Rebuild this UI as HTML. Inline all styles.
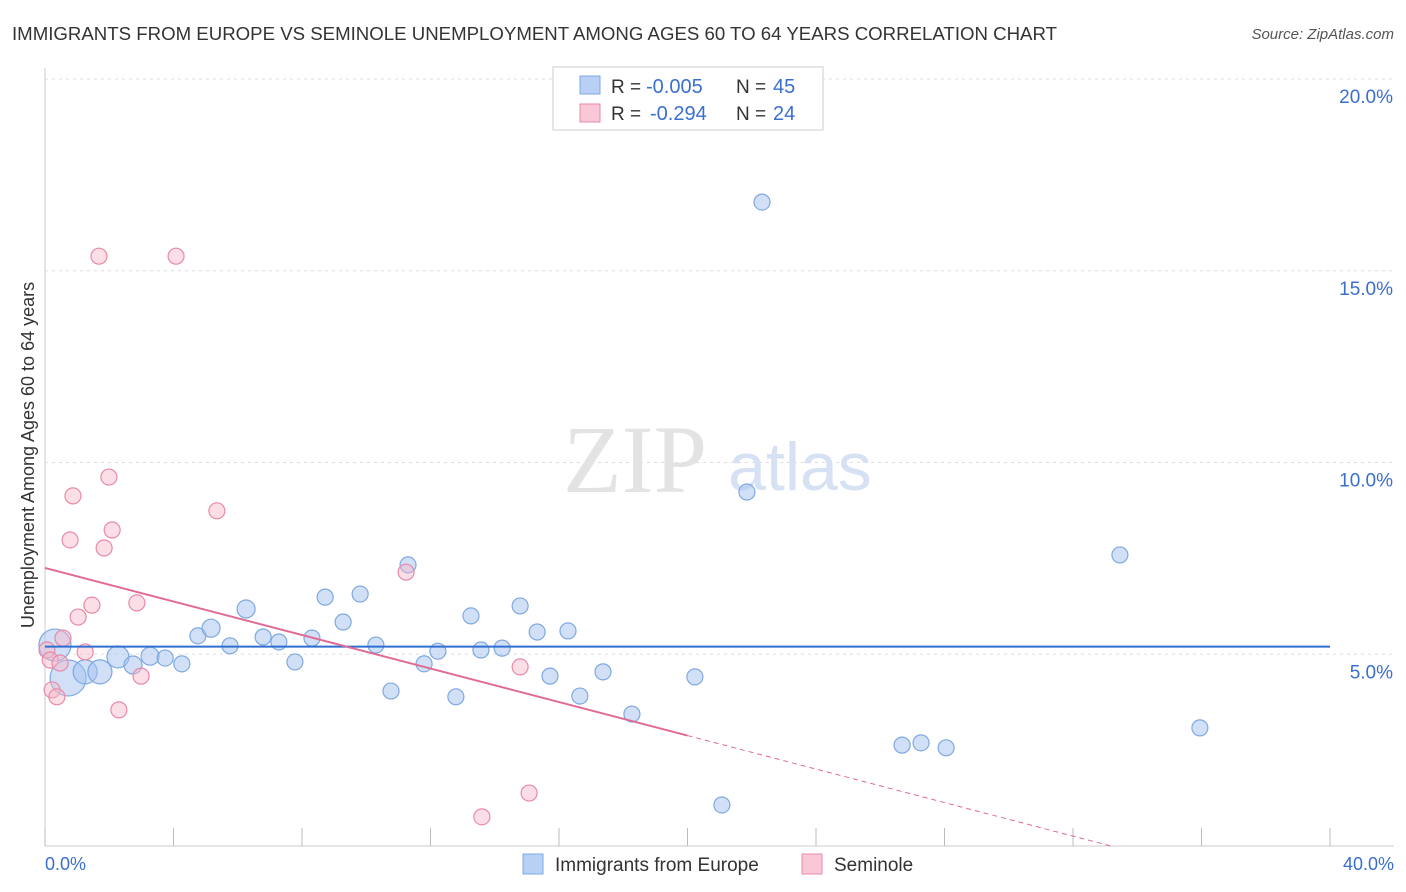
<!DOCTYPE html>
<html><head><meta charset="utf-8"><style>
body{margin:0;background:#fff;font-family:"Liberation Sans",sans-serif;}
svg{display:block}
</style></head><body>
<svg width="1406" height="892">
<text x="12" y="40" font-size="18" fill="#333" textLength="1045" lengthAdjust="spacingAndGlyphs">IMMIGRANTS FROM EUROPE VS SEMINOLE UNEMPLOYMENT AMONG AGES 60 TO 64 YEARS CORRELATION CHART</text>
<text x="1394" y="39" font-size="15" fill="#555" font-style="italic" text-anchor="end">Source: ZipAtlas.com</text>
<g id="grid"></g>
<text x="635" y="492" font-size="96" fill="#e3e3e3" text-anchor="middle" font-family="Liberation Serif,serif">ZIP</text>
<text x="800" y="490" font-size="68" fill="#d6e2f4" text-anchor="middle">atlas</text>
<g id="marks"></g>
<text x="34" y="455" font-size="18" fill="#333" text-anchor="middle" transform="rotate(-90 34 455)">Unemployment Among Ages 60 to 64 years</text>
<text x="45" y="870" font-size="18" fill="#3a6fd0">0.0%</text>
<text x="1394" y="870" font-size="18" fill="#3a6fd0" text-anchor="end">40.0%</text>
<g>
<rect x="553" y="67" width="270" height="63" fill="#fff" stroke="#ccc"/>
<rect x="580" y="76" width="20" height="18" fill="#b8d0f4" stroke="#7fa9e0"/>
<rect x="580" y="104" width="20" height="18" fill="#f9c7d6" stroke="#e88aa8"/>
<text x="611" y="93" font-size="19" fill="#333">R =</text>
<text x="646" y="93" font-size="20" fill="#3a6fd0">-0.005</text>
<text x="736" y="93" font-size="19" fill="#333">N =</text>
<text x="773" y="93" font-size="20" fill="#3a6fd0">45</text>
<text x="611" y="120" font-size="19" fill="#333">R =</text>
<text x="650" y="120" font-size="20" fill="#3a6fd0">-0.294</text>
<text x="736" y="120" font-size="19" fill="#333">N =</text>
<text x="773" y="120" font-size="20" fill="#3a6fd0">24</text>
</g>
<g>
<rect x="523" y="854" width="20" height="20" fill="#b8d0f4" stroke="#7fa9e0"/>
<text x="555" y="871" font-size="19" fill="#333">Immigrants from Europe</text>
<rect x="802" y="854" width="20" height="20" fill="#f9c7d6" stroke="#e88aa8"/>
<text x="834" y="871" font-size="19" fill="#333">Seminole</text>
</g>
</svg>
<script>
const yTicks=[5,10,15,20];
const yTickLabels=["5.0%","10.0%","15.0%","20.0%"];
const xTicks=[0,4,8,12,16,20,24,28,32,36,40];
const blueX=[0.31,0.72,1.25,1.71,2.27,2.74,3.27,3.74,4.26,4.76,5.17,5.76,6.26,6.79,7.28,7.78,8.31,8.72,9.28,9.81,10.30,10.77,11.30,11.80,12.23,12.79,13.26,13.57,14.23,14.79,15.32,15.72,16.28,16.65,17.37,18.27,20.23,21.07,21.85,22.32,26.68,27.27,28.05,33.46,35.95];
const blueY=[5.24,4.38,4.54,4.54,4.93,4.72,4.95,4.90,4.75,5.48,5.68,5.22,6.18,5.45,5.32,4.80,5.42,6.49,5.84,6.57,5.24,4.04,7.33,4.75,5.08,3.89,6.00,5.11,5.16,6.26,5.58,4.43,5.61,3.91,4.54,3.44,4.41,1.07,9.23,16.79,2.63,2.69,2.56,7.59,3.08];
const blueR=[16,18,12,12,11,9,9,8,8,8,9,8,9,8,8,8,8,8,8,8,8,8,8,8,8,8,8,8,8,8,8,8,8,8,8,8,8,8,8,8,8,8,8,8,8];
const pinkX=[0.06,0.16,0.22,0.37,0.47,0.56,0.78,0.87,1.03,1.25,1.46,1.68,1.84,1.99,2.09,2.30,2.86,2.99,4.08,5.35,11.24,13.60,14.79,15.07];
const pinkY=[5.11,4.85,4.07,3.89,4.77,5.42,7.98,9.13,5.97,5.06,6.28,15.38,7.77,9.62,8.24,3.55,6.34,4.43,15.38,8.74,7.14,0.76,4.67,1.38];
const blueTrend=[5.2,5.2];
const pinkTrend=[7.25,2.88];
const pinkSolidEnd=20;
const X=v=>45+v*32.125, Y=v=>846-v*38.35;
const NS="http://www.w3.org/2000/svg";
function mk(t,a,p){const e=document.createElementNS(NS,t);for(const k in a)e.setAttribute(k,a[k]);p.appendChild(e);return e;}
const g=document.getElementById('grid'), m=document.getElementById('marks');
let ax=mk('line',{x1:45,y1:68,x2:45,y2:846,stroke:'#ccc'},g);


let bx=mk('line',{x1:45,y1:846,x2:1394,y2:846,stroke:'#ccc'},g);


yTicks.forEach((v,i)=>{
 const l=mk('line',{x1:45,y1:Y(v),x2:1394,y2:Y(v),stroke:'#ddd','stroke-dasharray':'3,4'},g);
 
 
 const t=mk('text',{x:1393,y:Y(v)+24,'font-size':19,fill:'#3a6fd0','text-anchor':'end'},g);
 t.textContent=yTickLabels[i];
 
 
});
xTicks.forEach(v=>{
 const l=mk('line',{x1:X(v),y1:828,x2:X(v),y2:846,stroke:'#bbb'},g);
 
 
});
blueX.forEach((v,i)=>{
 const c=mk('circle',{cx:X(v),cy:Y(blueY[i]),r:blueR[i],fill:'rgba(164,194,240,0.5)',stroke:'#7fa9e0','stroke-width':1.2},m);
 
 
});
pinkX.forEach((v,i)=>{
 const c=mk('circle',{cx:X(v),cy:Y(pinkY[i]),r:8,fill:'rgba(246,181,200,0.45)',stroke:'#e88aa8','stroke-width':1.2},m);
 
 
});
let bl=mk('line',{x1:X(0),y1:Y(blueTrend[0]),x2:X(40),y2:Y(blueTrend[1]),stroke:'#2f6fd0','stroke-width':2},m);


const pf=x=>pinkTrend[0]+(pinkTrend[1]-pinkTrend[0])*x/pinkSolidEnd;
let pl=mk('line',{x1:X(0),y1:Y(pf(0)),x2:X(pinkSolidEnd),y2:Y(pf(pinkSolidEnd)),stroke:'#e06a94','stroke-width':2},m);


const xz=-pinkTrend[0]*pinkSolidEnd/(pinkTrend[1]-pinkTrend[0]);
let pd=mk('line',{x1:X(pinkSolidEnd),y1:Y(pf(pinkSolidEnd)),x2:X(xz),y2:Y(0),stroke:'#e06a94','stroke-width':1,'stroke-dasharray':'5,4'},m);


</script>
</body></html>
